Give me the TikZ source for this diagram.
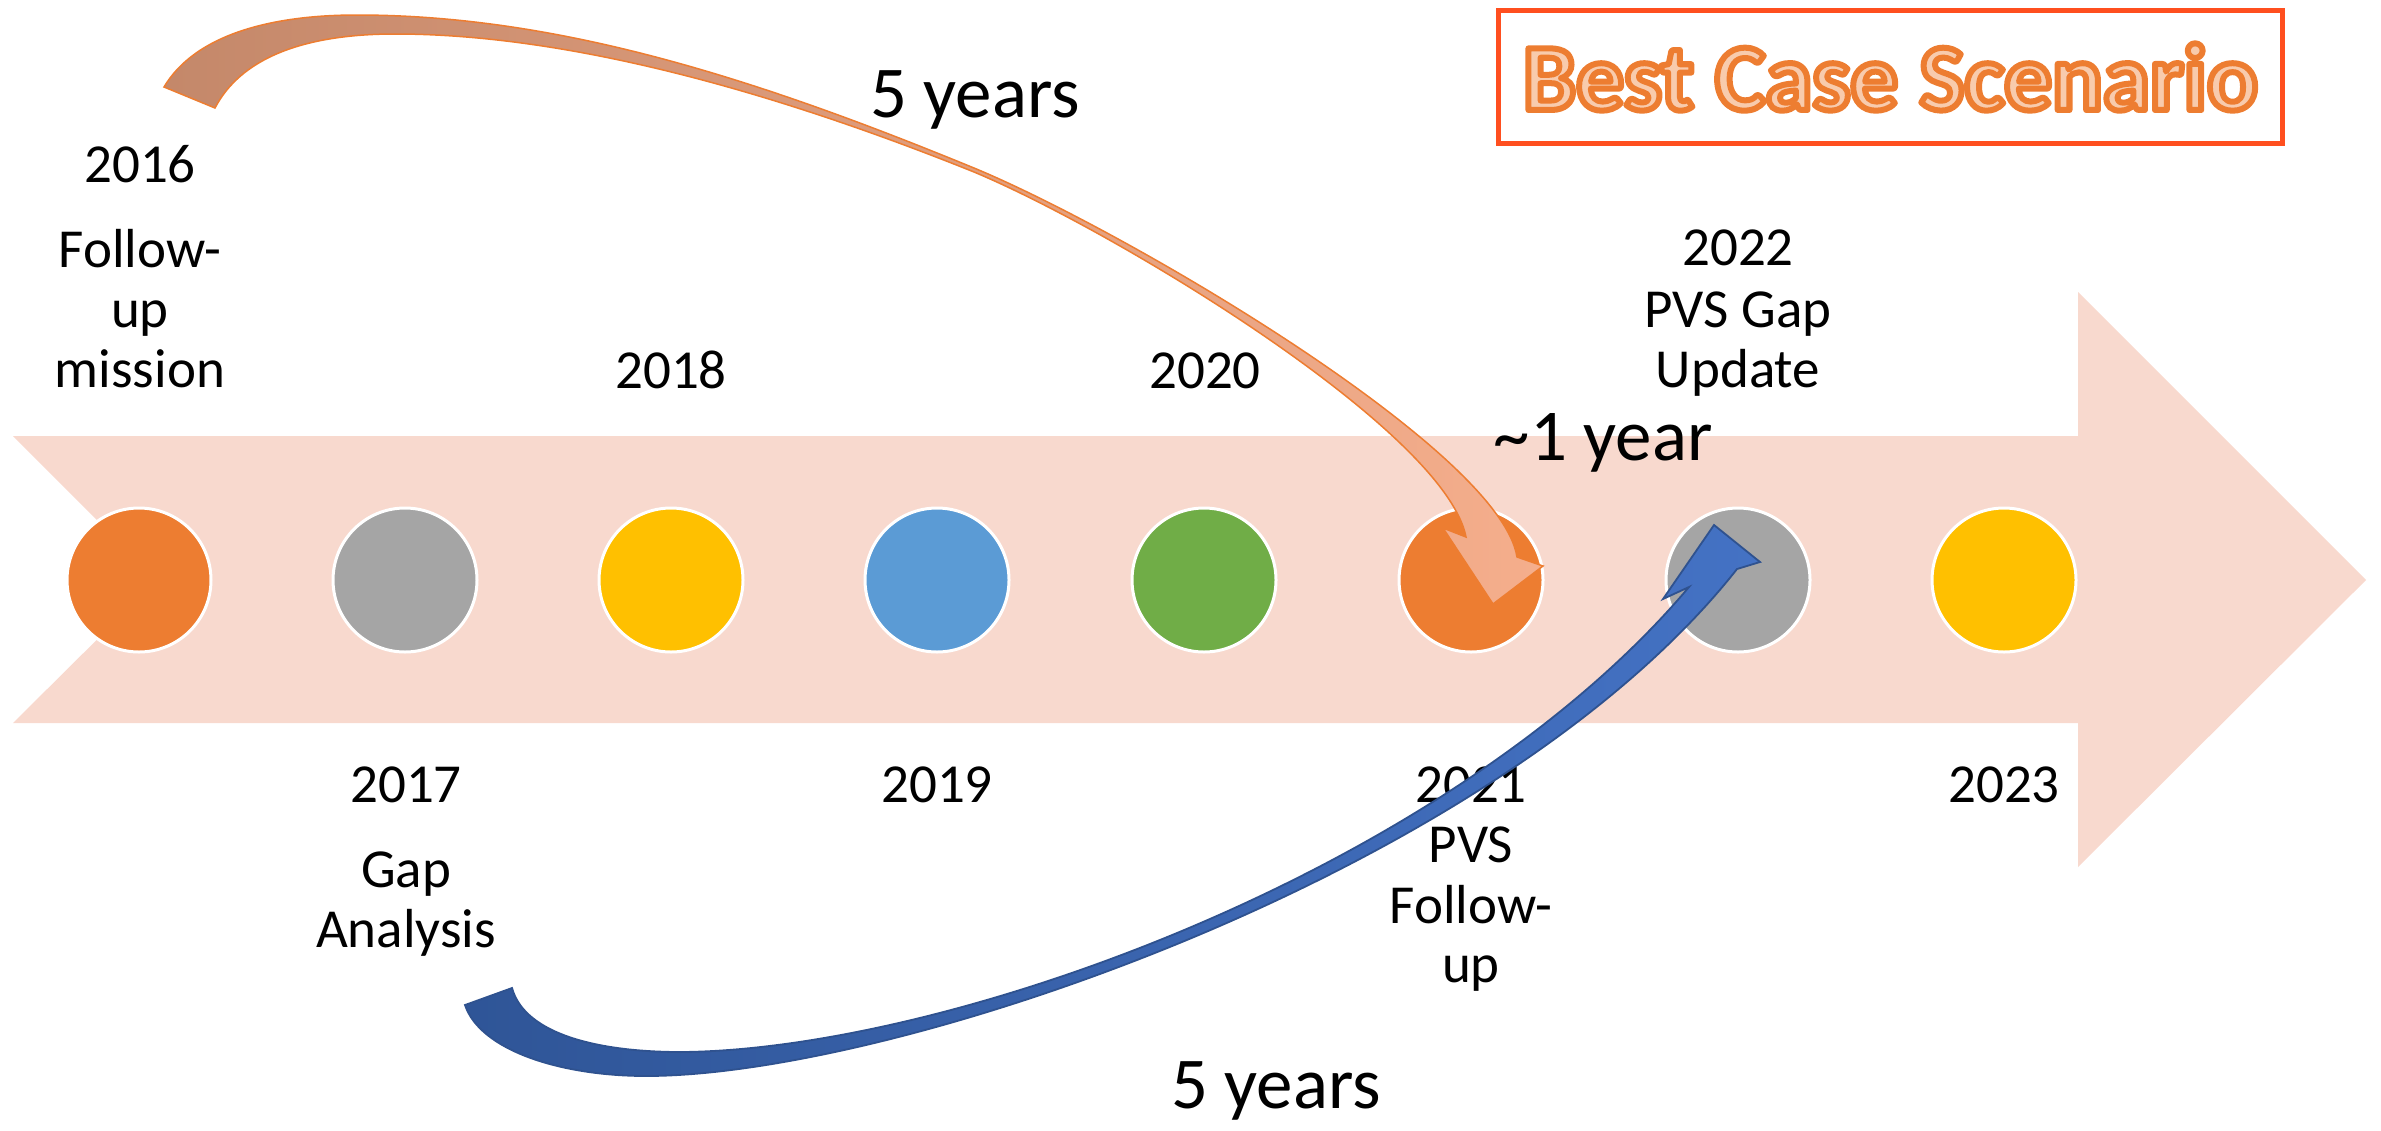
\documentclass[tikz,border=0pt]{standalone}
\usepackage{fontspec}
\setmainfont{Carlito}
\definecolor{band}{HTML}{F8D9CE}
\definecolor{cor}{HTML}{ED7D31}
\definecolor{cgr}{HTML}{A5A5A5}
\definecolor{cye}{HTML}{FFC000}
\definecolor{cbl}{HTML}{5B9BD5}
\definecolor{cgn}{HTML}{70AD47}
\definecolor{boxred}{HTML}{FF4F1F}
\definecolor{titlefill}{HTML}{F8CBAD}
\definecolor{ortail}{HTML}{C4886A}
\definecolor{ormid}{HTML}{F2B396}
\definecolor{orhead}{HTML}{F5AE8C}
\definecolor{bltail}{HTML}{2F5597}
\definecolor{blhead}{HTML}{4472C4}
\definecolor{blline}{HTML}{2F528F}
\newcommand\outlinetext[1]{\special{pdf:literal direct 0.929 0.490 0.192 RG 3 w 1 j 2 Tr}#1\special{pdf:literal direct 0 Tr}}
\tikzset{
  yr/.style={anchor=base, inner sep=0pt, font=\fontsize{27.5}{30}\selectfont},
  big/.style={anchor=base, inner sep=0pt, font=\fontsize{36.5}{40}\selectfont},
  dot/.style={circle, draw=white, line width=1.5pt, minimum size=72pt, inner sep=0pt},
  orarrow/.style={draw=cor, line width=0.75pt, line join=miter, left color=ortail, middle color=ormid, right color=orhead},
  blarrow/.style={draw=blline, line width=0.9pt, line join=miter, left color=bltail, right color=blhead},
}
\begin{document}
\begin{tikzpicture}[x=0.5pt,y=-0.5pt]
\useasboundingbox (0,0) rectangle (2381,1130);
% timeline band
\fill[band] (13,436) -- (2078,436) -- (2078,292) -- (2366,580) -- (2078,867) -- (2078,723) -- (13,723) -- (157,580) -- cycle;
% circles
\node[dot, fill=cor] (c16) at (139,580) {};
\node[dot, fill=cgr] (c17) at (405,580) {};
\node[dot, fill=cye] (c18) at (671,580) {};
\node[dot, fill=cbl] (c19) at (937,580) {};
\node[dot, fill=cgn] (c20) at (1204,580) {};
\node[dot, fill=cor] (c21) at (1471,580) {};
\node[dot, fill=cgr] (c22) at (1738,580) {};
\node[dot, fill=cye] (c23) at (2004,580) {};
% labels
\node[yr] (t16) at (140,182) {2016};
\node[yr] (t16a) at (140,267) {Follow-};
\node[yr] (t16b) at (140,327) {up};
\node[yr] (t16c) at (140,387) {mission};
\node[yr] (t18) at (671,388) {2018};
\node[yr] (t20) at (1205,388) {2020};
\node[yr] (t22) at (1738,265) {2022};
\node[yr] (t22a) at (1738,327) {PVS Gap};
\node[yr] (t22b) at (1738,387) {Update};
\node[yr] (t17) at (406,802) {2017};
\node[yr] (t17a) at (406,887) {Gap};
\node[yr] (t17b) at (406,947) {Analysis};
\node[yr] (t19) at (937,802) {2019};
\node[yr] (t21) at (1471,802) {2021};
\node[yr] (t21a) at (1471,862) {PVS};
\node[yr] (t21b) at (1471,923) {Follow-};
\node[yr] (t21c) at (1471,982) {up};
\node[yr] (t23) at (2004,802) {2023};
% orange curved arrow
\shadedraw[orarrow]
  (164,87) .. controls (195,35) and (270,15) .. (357,15)
  .. controls (560,15) and (760,80) .. (974,168)
  .. controls (1124,230) and (1500,450) .. (1517,557)
  -- (1543,566) -- (1493,604) -- (1443,528) -- (1466,537)
  .. controls (1445,430) and (1115,231) .. (974,172)
  .. controls (760,86) and (560,34) .. (395,34)
  .. controls (300,34) and (240,60) .. (215,108)
  -- cycle;
% blue curved arrow
\shadedraw[blarrow]
  (465,1005) .. controls (480,1050) and (560,1076) .. (646,1076)
  .. controls (900,1076) and (1500,870) .. (1737,569)
  -- (1760,562) -- (1714,525) -- (1663,599) -- (1689,587)
  .. controls (1450,870) and (950,1050) .. (681,1052)
  .. controls (600,1052) and (525,1035) .. (512,988)
  -- cycle;
% durations
\node[big] (l5a) at (975,117) {5 years};
\node[big] (l1) at (1603,460) {\textasciitilde1 year};
\node[big] (l5b) at (1276,1108) {5 years};
% title
\node[draw=boxred, line width=2.5pt, minimum width=392pt, minimum height=66.5pt, inner sep=0pt,
      text=titlefill, font=\fontsize{47.5}{50}\selectfont\bfseries] (title) at (1890.5,77) {\outlinetext{Best Case Scenario}};
\end{tikzpicture}
\end{document}
